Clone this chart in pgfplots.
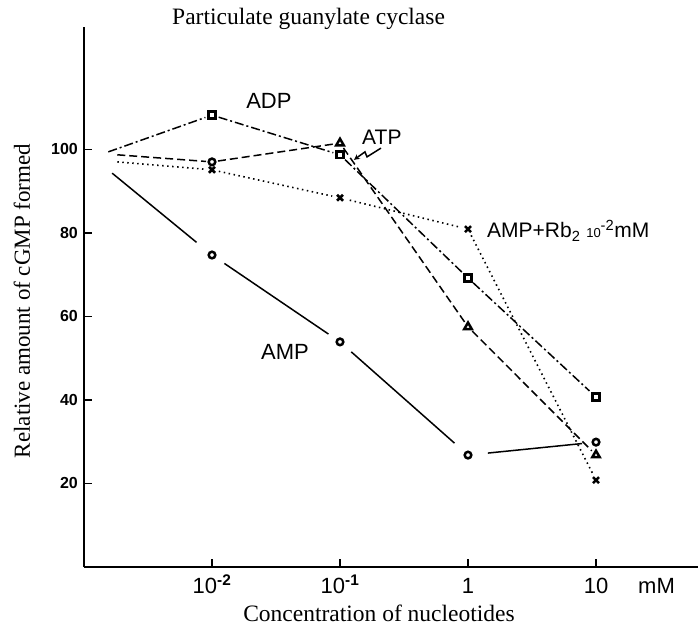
\documentclass[border=0pt]{standalone}
\usepackage{fontspec}
\setmainfont{Liberation Serif}
\newfontfamily\lsans{Liberation Sans}
\usepackage{pgfplots}
\pgfplotsset{compat=1.18}
\begin{document}
\begin{tikzpicture}
\path[use as bounding box] (0,0) rectangle (700pt,630pt);
\begin{axis}[
  at={(84pt,63pt)}, anchor=south west,
  scale only axis, width=614.4pt, height=540pt,
  xmin=-3, xmax=1.8, ymin=0, ymax=129.3,
  axis x line=bottom, axis y line=left,
  axis line style={line width=2pt, -},
  xtick={-2,-1,0,1},
  xticklabels={10\textsuperscript{\bfseries -2}, 10\textsuperscript{\bfseries -1}, 1, 10},
  ytick={20,40,60,80,100}, yticklabels={20,40,60,80,100},
  tick align=inside, major tick length=8pt,
  tick style={line width=1.6pt, black},
  xticklabel style={font=\lsans\fontsize{22}{22}\selectfont, anchor=base, inner sep=0pt, yshift=-26pt},
  yticklabel style={font=\lsans\bfseries\fontsize{16}{16}\selectfont, inner sep=0pt, xshift=-6pt},
  clip=false,
  adp/.style={black, line width=1.5pt, no marks, dash pattern=on 9pt off 3pt on 2pt off 3pt},
  atp/.style={black, line width=1.5pt, no marks, dash pattern=on 8pt off 4pt},
  rb/.style={black, line width=1.6pt, no marks, dash pattern=on 1.5pt off 3.5pt},
  amp/.style={black, line width=1.5pt, no marks},
]
% ADP (dash-dot)
\addplot[adp, shorten >=7pt] coordinates {(-2.81,99.4) (-2,108.2)};
\addplot[adp, shorten <=7pt, shorten >=7pt] coordinates {(-2,108.2) (-1,98.7)};
\addplot[adp, shorten <=7pt, shorten >=7pt] coordinates {(-1,98.7) (0,69.2)};
\addplot[adp, shorten <=7pt, shorten >=9pt] coordinates {(0,69.2) (1,40.7)};
% ATP (dashed)
\addplot[atp, shorten >=6pt] coordinates {(-2.74,98.7) (-2,97.0)};
\addplot[atp, shorten <=6pt, shorten >=6pt] coordinates {(-2,97.0) (-1,101.5)};
\addplot[atp, shorten <=6pt, shorten >=6pt] coordinates {(-1,101.5) (0,57.5)};
\addplot[atp, shorten <=6pt, shorten >=6pt] coordinates {(0,57.5) (1,26.8)};
% AMP + Rb2 (dotted)
\addplot[rb, shorten >=6pt] coordinates {(-2.74,97.0) (-2,95.1)};
\addplot[rb, shorten <=7pt, shorten >=8pt] coordinates {(-2,95.1) (-1,88.4)};
\addplot[rb, shorten <=10pt, shorten >=7pt] coordinates {(-1,88.4) (0,80.9)};
\addplot[rb, shorten <=7pt, shorten >=6pt] coordinates {(0,80.9) (1,20.8)};
% AMP (solid)
\addplot[amp, shorten >=20pt] coordinates {(-2.78,94.3) (-2,74.7)};
\addplot[amp, shorten <=15pt, shorten >=14pt] coordinates {(-2,74.7) (-1,53.9)};
\addplot[amp, shorten <=15pt, shorten >=18pt] coordinates {(-1,53.9) (0,26.8)};
\addplot[amp, shorten <=20pt, shorten >=14pt] coordinates {(0,26.8) (1,29.9)};
% markers
\addplot[black, only marks, line width=2.5pt, mark=square, mark size=3.4pt, mark options={solid, fill=white}] coordinates {(-2,108.2) (-1,98.7) (0,69.2) (1,40.7)};
\addplot[black, only marks, line width=2.5pt, mark=triangle, mark size=4.3pt, mark options={solid, fill=white}] coordinates {(-1,101.5) (0,57.5) (1,26.8)};
\addplot[black, only marks, line width=2.5pt, mark=o, mark size=3.3pt, mark options={solid, fill=white}] coordinates {(-2,97.0) (-2,74.7) (-1,53.9) (0,26.8) (1,29.9)};
\addplot[black, only marks, line width=2.6pt, mark=x, mark size=4.2pt, mark options={solid}] coordinates {(-2,95.1) (-1,88.4) (0,80.9) (1,20.8)};
% labels
\node[anchor=base west, inner sep=0pt, font=\lsans\fontsize{22}{22}\selectfont] at (axis cs:-1.734,109.9) {ADP};
\node[anchor=base west, inner sep=0pt, font=\lsans\fontsize{22}{22}\selectfont] at (axis cs:-1.617,49.8) {AMP};
\node[anchor=base west, inner sep=0pt, font=\lsans\fontsize{21}{21}\selectfont] at (axis cs:-0.828,101.05) {ATP};
\node[anchor=base west, inner sep=0pt, font=\lsans\fontsize{21}{21}\selectfont] at (axis cs:0.148,78.8) {AMP+Rb\textsubscript{2} {\fontsize{13}{13}\selectfont 10}\textsuperscript{-2}mM};
\draw[line width=1.5pt, -stealth] (axis cs:-0.680,100.3) -- (axis cs:-0.789,98.2) -- (axis cs:-0.805,99.4) -- (axis cs:-0.891,97.5);
\node[anchor=base, inner sep=0pt, font=\lsans\fontsize{22}{22}\selectfont] at (axis cs:1.473,0) [yshift=-26pt] {mM};
\end{axis}
\node[anchor=base west, inner sep=0pt, font=\fontsize{23.5}{23.5}\selectfont] at (172pt,605pt) {Particulate guanylate cyclase};
\node[rotate=90, inner sep=0pt, font=\fontsize{23}{23}\selectfont] at (22pt,329pt) {Relative amount of cGMP formed};
\node[anchor=base, inner sep=0pt, font=\fontsize{23.5}{23.5}\selectfont] at (379pt,9pt) {Concentration of nucleotides};
\end{tikzpicture}
\end{document}
